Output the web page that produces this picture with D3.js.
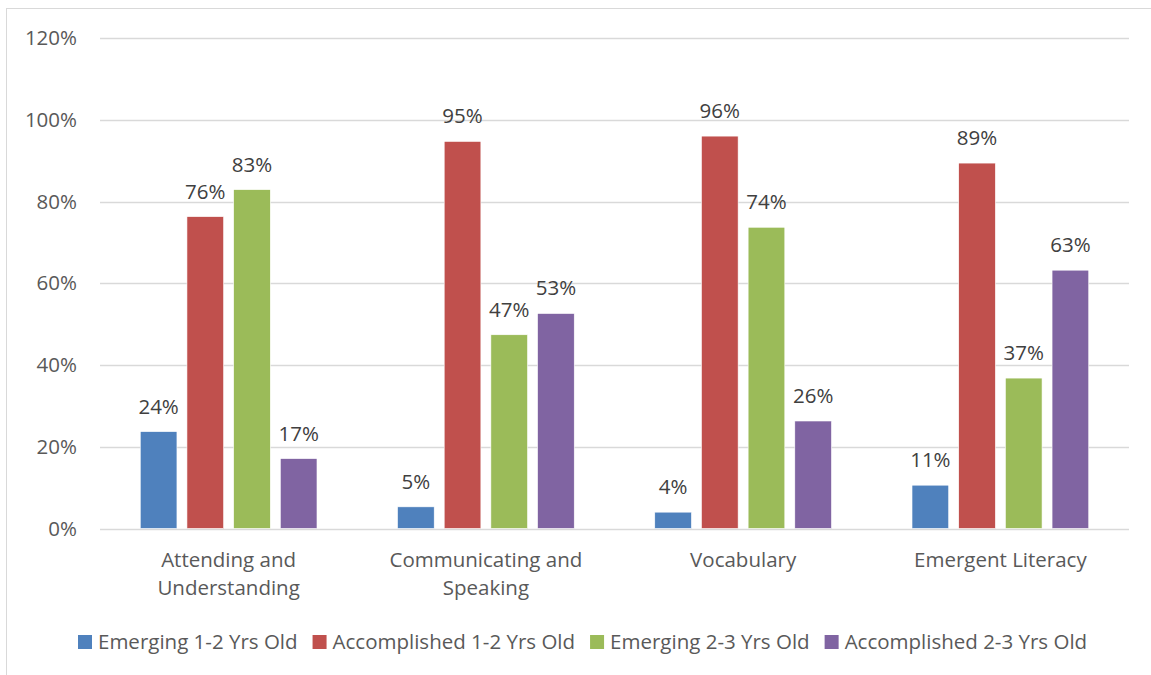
<!DOCTYPE html>
<html>
<head>
<meta charset="utf-8">
<script src="https://cdn.jsdelivr.net/npm/d3@7/dist/d3.min.js"></script>
<style>
  body { margin: 0; background: #fff; }
  svg { display: block; font-family: "Open Sans", "Liberation Sans", Arial, sans-serif; }
</style>
</head>
<body>
<svg width="1151" height="675"></svg>
<script>
// data
var categories = [['Attending and', 'Understanding'], ['Communicating and', 'Speaking'], ['Vocabulary'], ['Emergent Literacy']];
var seriesNames = ['Emerging 1-2 Yrs Old', 'Accomplished 1-2 Yrs Old', 'Emerging 2-3 Yrs Old', 'Accomplished 2-3 Yrs Old'];
var emerging12 = [23.7, 5.3, 4.0, 10.6];
var accomplished12 = [76.3, 94.7, 96.0, 89.4];
var emerging23 = [82.9, 47.4, 73.7, 36.8];
var accomplished23 = [17.1, 52.6, 26.3, 63.2];
var yTicks = [0, 20, 40, 60, 80, 100, 120];
var colors = ['#4F81BD', '#C0504D', '#9BBB59', '#8064A2'];

var series = [emerging12, accomplished12, emerging23, accomplished23];

var svg = d3.select('svg');
var fs = '20.5px';

// chart border
svg.append('rect').attr('x', 6.5).attr('y', 8.5).attr('width', 1200).attr('height', 700)
    .attr('fill', 'none').attr('stroke', '#D9D9D9').attr('stroke-width', 1);

var plotL = 100, plotR = 1129, plotT = 38, plotB = 528.5;

var y = d3.scaleLinear().domain([0, 120]).range([plotB, plotT]);
var x0 = d3.scaleBand().domain(d3.range(categories.length)).range([plotL, plotR]).paddingInner(0.313).paddingOuter(0.1565);
var x1 = d3.scaleBand().domain(d3.range(series.length)).range([0, x0.bandwidth()]).paddingInner(0.214);

// gridlines
svg.append('g').selectAll('line').data(yTicks).enter().append('line')
    .attr('x1', plotL).attr('x2', plotR)
    .attr('y1', function(d) { return Math.round(y(d)) + 0.5; })
    .attr('y2', function(d) { return Math.round(y(d)) + 0.5; })
    .attr('stroke', '#D9D9D9').attr('stroke-width', 1.3);

// y axis labels
var yAxis = d3.axisLeft(y).tickValues(yTicks).tickSize(0).tickPadding(0)
    .tickFormat(function(d) { return d + '%'; });
var gy = svg.append('g').attr('transform', 'translate(77,0)').call(yAxis);
gy.select('.domain').remove();
gy.selectAll('text').attr('fill', '#595959').style('font-size', fs)
    .style('font-family', '"Open Sans", "Liberation Sans", Arial, sans-serif');

// bars
var groups = svg.append('g').selectAll('g').data(categories).enter().append('g')
    .attr('transform', function(d, i) { return 'translate(' + x0(i) + ',0)'; });

groups.each(function(c, ci) {
    var g = d3.select(this);
    series.forEach(function(s, si) {
        g.append('rect')
            .attr('x', x1(si)).attr('width', x1.bandwidth())
            .attr('y', y(s[ci])).attr('height', plotB - y(s[ci]))
            .attr('fill', colors[si]).attr('stroke', '#fff').attr('stroke-width', 0.6);
        g.append('text')
            .attr('x', x1(si) + x1.bandwidth() / 2).attr('y', y(s[ci]) - 18)
            .attr('text-anchor', 'middle').attr('fill', '#404040').style('font-size', fs)
            .text(Math.round(s[ci]) + '%');
    });
});

// category labels
var xAxis = svg.append('g');
categories.forEach(function(lines, i) {
    var t = xAxis.append('text').attr('text-anchor', 'middle').attr('fill', '#595959').style('font-size', fs);
    lines.forEach(function(l, li) {
        t.append('tspan').attr('x', x0(i) + x0.bandwidth() / 2).attr('y', 567 + li * 28).text(l);
    });
});

// legend
var legend = svg.append('g');
var lx = 78;
seriesNames.forEach(function(n, i) {
    legend.append('rect').attr('x', lx).attr('y', 635).attr('width', 14).attr('height', 14).attr('fill', colors[i]);
    var t = legend.append('text').attr('x', lx + 20).attr('y', 649).attr('fill', '#595959')
        .style('font-size', fs).text(n);
    lx += 20 + t.node().getComputedTextLength() + 15;
});
</script>
</body>
</html>
